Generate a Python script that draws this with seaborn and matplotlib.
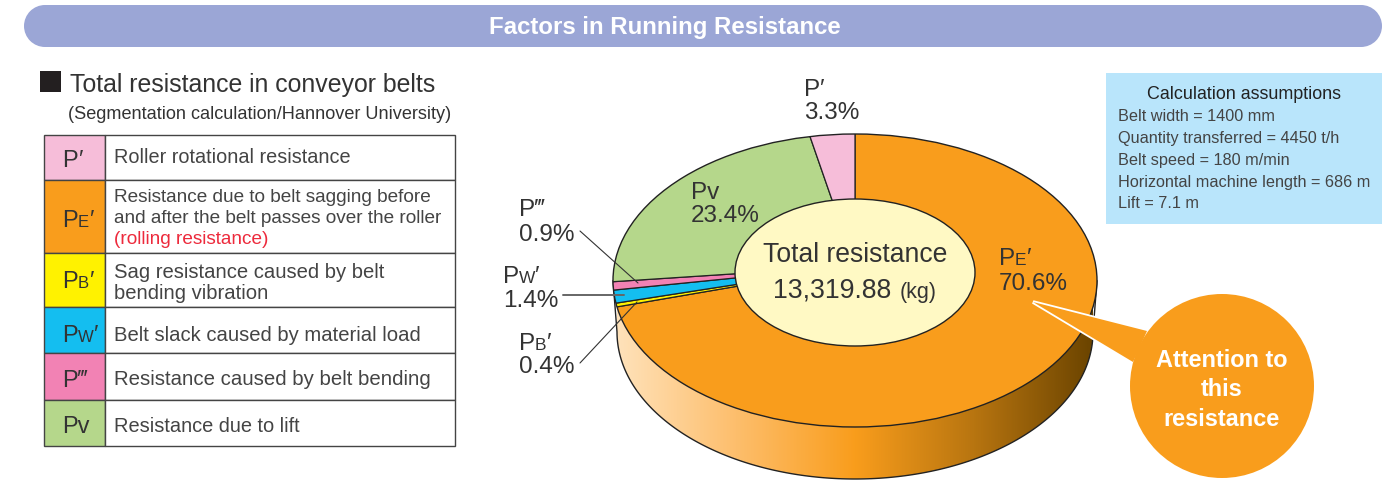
import numpy as np
import matplotlib
matplotlib.use("Agg")
import matplotlib.pyplot as plt
from matplotlib.patches import Ellipse, Rectangle, Polygon, Circle
import seaborn as sns

# ---- data -------------------------------------------------------------
slice_names = ["PE'", "PB'", "PW'", "P'''", "Pv", "P'"]          # clockwise from 12 o'clock
slice_values = [70.6, 0.4, 1.4, 0.9, 23.4, 3.3]
slice_colors = ["#F99D1C", "#FFF200", "#14BEF0", "#F282B4", "#B5D78B", "#F6BDD9"]

table_symbols = [("P", "", "\u2032"), ("P", "E", "\u2032"), ("P", "B", "\u2032"),
                 ("P", "W", "\u2032"), ("P", "", "\u2034"), ("Pv", "", "")]
table_colors = ["#F6BDD9", "#F99D1C", "#FFF200", "#14BEF0", "#F282B4", "#B5D78B"]
table_descriptions = [
    ["Roller rotational resistance"],
    ["Resistance due to belt sagging before", "and after the belt passes over the roller", "(rolling resistance)"],
    ["Sag resistance caused by belt", "bending vibration"],
    ["Belt slack caused by material load"],
    ["Resistance caused by belt bending"],
    ["Resistance due to lift"],
]
assumptions = ["Belt width = 1400 mm", "Quantity transferred = 4450 t/h", "Belt speed = 180 m/min",
               "Horizontal machine length = 686 m", "Lift = 7.1 m"]
total_value = "13,319.88"

# ---- style ------------------------------------------------------------
sns.set_theme(style="white")
FONT = ["Liberation Sans", "DejaVu Sans"]
plt.rcParams["font.family"] = FONT
INK = "#333333"
W, H = 1382, 485

fig = plt.figure(figsize=(W / 100, H / 100), dpi=100, facecolor="white")


def pixel_axes(z):
    a = fig.add_axes([0, 0, 1, 1], zorder=z)
    a.set_xlim(0, W)
    a.set_ylim(H, 0)
    a.axis("off")
    a.patch.set_alpha(0)
    return a


base = pixel_axes(0)
ax = pixel_axes(2)

# ---- 3-D rim with gradient -------------------------------------------
cx, cy_top, a_top, b_top = 855, 281.5, 242, 146.5
cy_bot, a_bot, b_bot = 333, 238, 147
t = np.linspace(np.pi, 0, 200)
rim_x = cx + a_bot * np.cos(t)
rim_y = cy_bot + b_bot * np.sin(t)
rim = np.vstack([np.column_stack([rim_x, rim_y]), [[cx + a_top, cy_top], [cx - a_top, cy_top]]])
rim_patch = Polygon(rim, closed=True, facecolor="none", edgecolor="#222222", linewidth=1.0, zorder=3)
base.add_patch(rim_patch)
cmap = sns.blend_palette(["#FFE2BA", "#FDBE6C", "#F99D1C", "#B87510", "#6B4400"], as_cmap=True)
im = base.imshow(np.linspace(0, 1, 256)[None, :], extent=(cx - a_bot, cx + a_bot, cy_bot + b_bot, cy_top),
                 cmap=cmap, aspect="auto", zorder=2)
im.set_clip_path(rim_patch)
base.set_xlim(0, W)
base.set_ylim(H, 0)

# ---- pie: wedges meet above the visual ellipse centre (perspective) ----
apex_y = 267
pie_ax = fig.add_axes([0, 0, 1, 1], zorder=1)
wedges, _ = pie_ax.pie(slice_values, colors=slice_colors, startangle=90, counterclock=False,
                       radius=1.35, center=(0, 0),
                       wedgeprops=dict(edgecolor="#222222", linewidth=0.9))
pie_ax.set_aspect("auto")
pie_ax.set_xlim((0 - cx) / a_top, (W - cx) / a_top)
pie_ax.set_ylim((apex_y - H) / b_top, (apex_y - 0) / b_top)
pie_ax.axis("off")
pie_ax.patch.set_alpha(0)
clip = Ellipse((0, (apex_y - cy_top) / b_top), 2, 2, facecolor="none", edgecolor="#222222",
               linewidth=1.0, zorder=5)
pie_ax.add_patch(clip)
for w in wedges:
    w.set_clip_on(True)
    w.set_clip_path(clip)

# ---- hole -------------------------------------------------------------
ax.add_patch(Ellipse((855, 273.5), 240, 147, facecolor="#FFF9C4", edgecolor="#222222", linewidth=1.0, zorder=2))
ax.text(855, 262, "Total resistance", ha="center", va="baseline", fontsize=19.1, color=INK, zorder=3)
ax.text(773, 298, total_value, ha="left", va="baseline", fontsize=19.2, color=INK, zorder=3)
ax.text(900, 298, "(kg)", ha="left", va="baseline", fontsize=15.5, color=INK, zorder=3)

# ---- header -----------------------------------------------------------
HEAD = "#9BA6D6"
ax.add_patch(Rectangle((45, 6), 1316, 42, facecolor=HEAD, edgecolor="none"))
ax.add_patch(Ellipse((45, 27), 42, 42, facecolor=HEAD, edgecolor="none"))
ax.add_patch(Ellipse((1361, 27), 42, 42, facecolor=HEAD, edgecolor="none"))
ax.text(664.5, 34, "Factors in Running Resistance", ha="center", va="baseline", fontsize=17.3,
        fontweight="bold", color="white")

# ---- left heading ------------------------------------------------------
ax.add_patch(Rectangle((40, 72), 21, 21, facecolor="#231F20", edgecolor="none"))
ax.text(70, 92, "Total resistance in conveyor belts", ha="left", va="baseline", fontsize=17.95, color=INK)
ax.text(68, 119, "(Segmentation calculation/Hannover University)", ha="left", va="baseline",
        fontsize=13.05, color=INK)


# ---- helper for "P + small letter + prime" ------------------------------
renderer = fig.canvas.get_renderer()


def symbol(x, y, parts, big, small):
    for text, size in zip(parts, (big, small, big)):
        if not text:
            continue
        tx = ax.text(x, y, text, ha="left", va="baseline", fontsize=size, color=INK, zorder=3)
        x += tx.get_window_extent(renderer).width


# ---- table -------------------------------------------------------------
row_edges = [135.5, 181.3, 254.3, 308.3, 354.3, 401.3, 447]
sym_base = [167, 227, 288, 342, 387, 433]
desc_base = [[163], [202, 223, 244], [278, 299], [341], [385], [432]]
desc_sizes = [14.35, 13.7, 14.55, 14.55, 14.7, 14.45]
for i, (s, c, d) in enumerate(zip(table_symbols, table_colors, table_descriptions)):
    y0, y1 = row_edges[i], row_edges[i + 1]
    ax.add_patch(Rectangle((44, y0), 61.5, y1 - y0, facecolor=c, edgecolor="#444444", linewidth=1.0))
    ax.add_patch(Rectangle((105.5, y0), 349.5, y1 - y0, facecolor="white", edgecolor="#444444", linewidth=1.0))
    symbol(62, sym_base[i], s, 17, 12)
    for j, (line, yb) in enumerate(zip(d, desc_base[i])):
        col = "#ED2A3C" if line.startswith("(rolling") else "#444444"
        ax.text(114, yb, line, ha="left", va="baseline", fontsize=desc_sizes[i], color=col)

# ---- assumptions box -----------------------------------------------------
ax.add_patch(Rectangle((1106, 74), 276, 151, facecolor="#B9E5FB", edgecolor="none"))
ax.text(1244, 99, "Calculation assumptions", ha="center", va="baseline", fontsize=12.9, color="#222222")
for line, yb in zip(assumptions, [121, 143, 165, 187, 208]):
    ax.text(1118, yb, line, ha="left", va="baseline", fontsize=11.7, color="#444444")

# ---- leader lines --------------------------------------------------------
ax.plot([580, 638], [232, 284], color="#333333", lw=0.8, zorder=3)
ax.plot([563, 624], [296, 296], color="#666666", lw=1.4, zorder=3)
ax.plot([580, 637], [364, 303], color="#333333", lw=0.8, zorder=3)

# ---- slice labels ----------------------------------------------------------
label_pos = {
    "PE'": (999, 265, 290, ("P", "E", "\u2032")),
    "PB'": (519, 350, 373, ("P", "B", "\u2032")),
    "PW'": (503, 283, 307, ("P", "W", "\u2032")),
    "P'''": (519, 216, 241, ("P", "", "\u2034")),
    "Pv": (691, 199, 222, ("Pv", "", "")),
    "P'": (804, 96, 119, ("P", "", "\u2032")),
}
for name, val in zip(slice_names, slice_values):
    x, y1, y2, parts = label_pos[name]
    symbol(x, y1, parts, 17.5, 12.5)
    ax.text(x, y2, f"{val:.1f}%", ha="left", va="baseline", fontsize=17.5, color=INK, zorder=3)

# ---- callout ---------------------------------------------------------------
tail = [(1033, 303), (1147, 332), (1133, 363)]
ax.add_patch(Polygon(tail, closed=True, facecolor="white", edgecolor="white", linewidth=2.6,
                     joinstyle="miter", zorder=4))
ax.add_patch(Polygon(tail, closed=True, facecolor="#F99D1C", edgecolor="none", zorder=4))
ax.add_patch(Circle((1222, 387), 92, facecolor="#F99D1C", edgecolor="none", zorder=4))
for line, yb in zip(["Attention to", "this", "resistance"], [367, 396, 426]):
    ax.text(1222, yb, line, ha="center", va="baseline", fontsize=16.9, fontweight="bold",
            color="white", zorder=5)

fig.savefig("out.png", dpi=100, facecolor="white")
